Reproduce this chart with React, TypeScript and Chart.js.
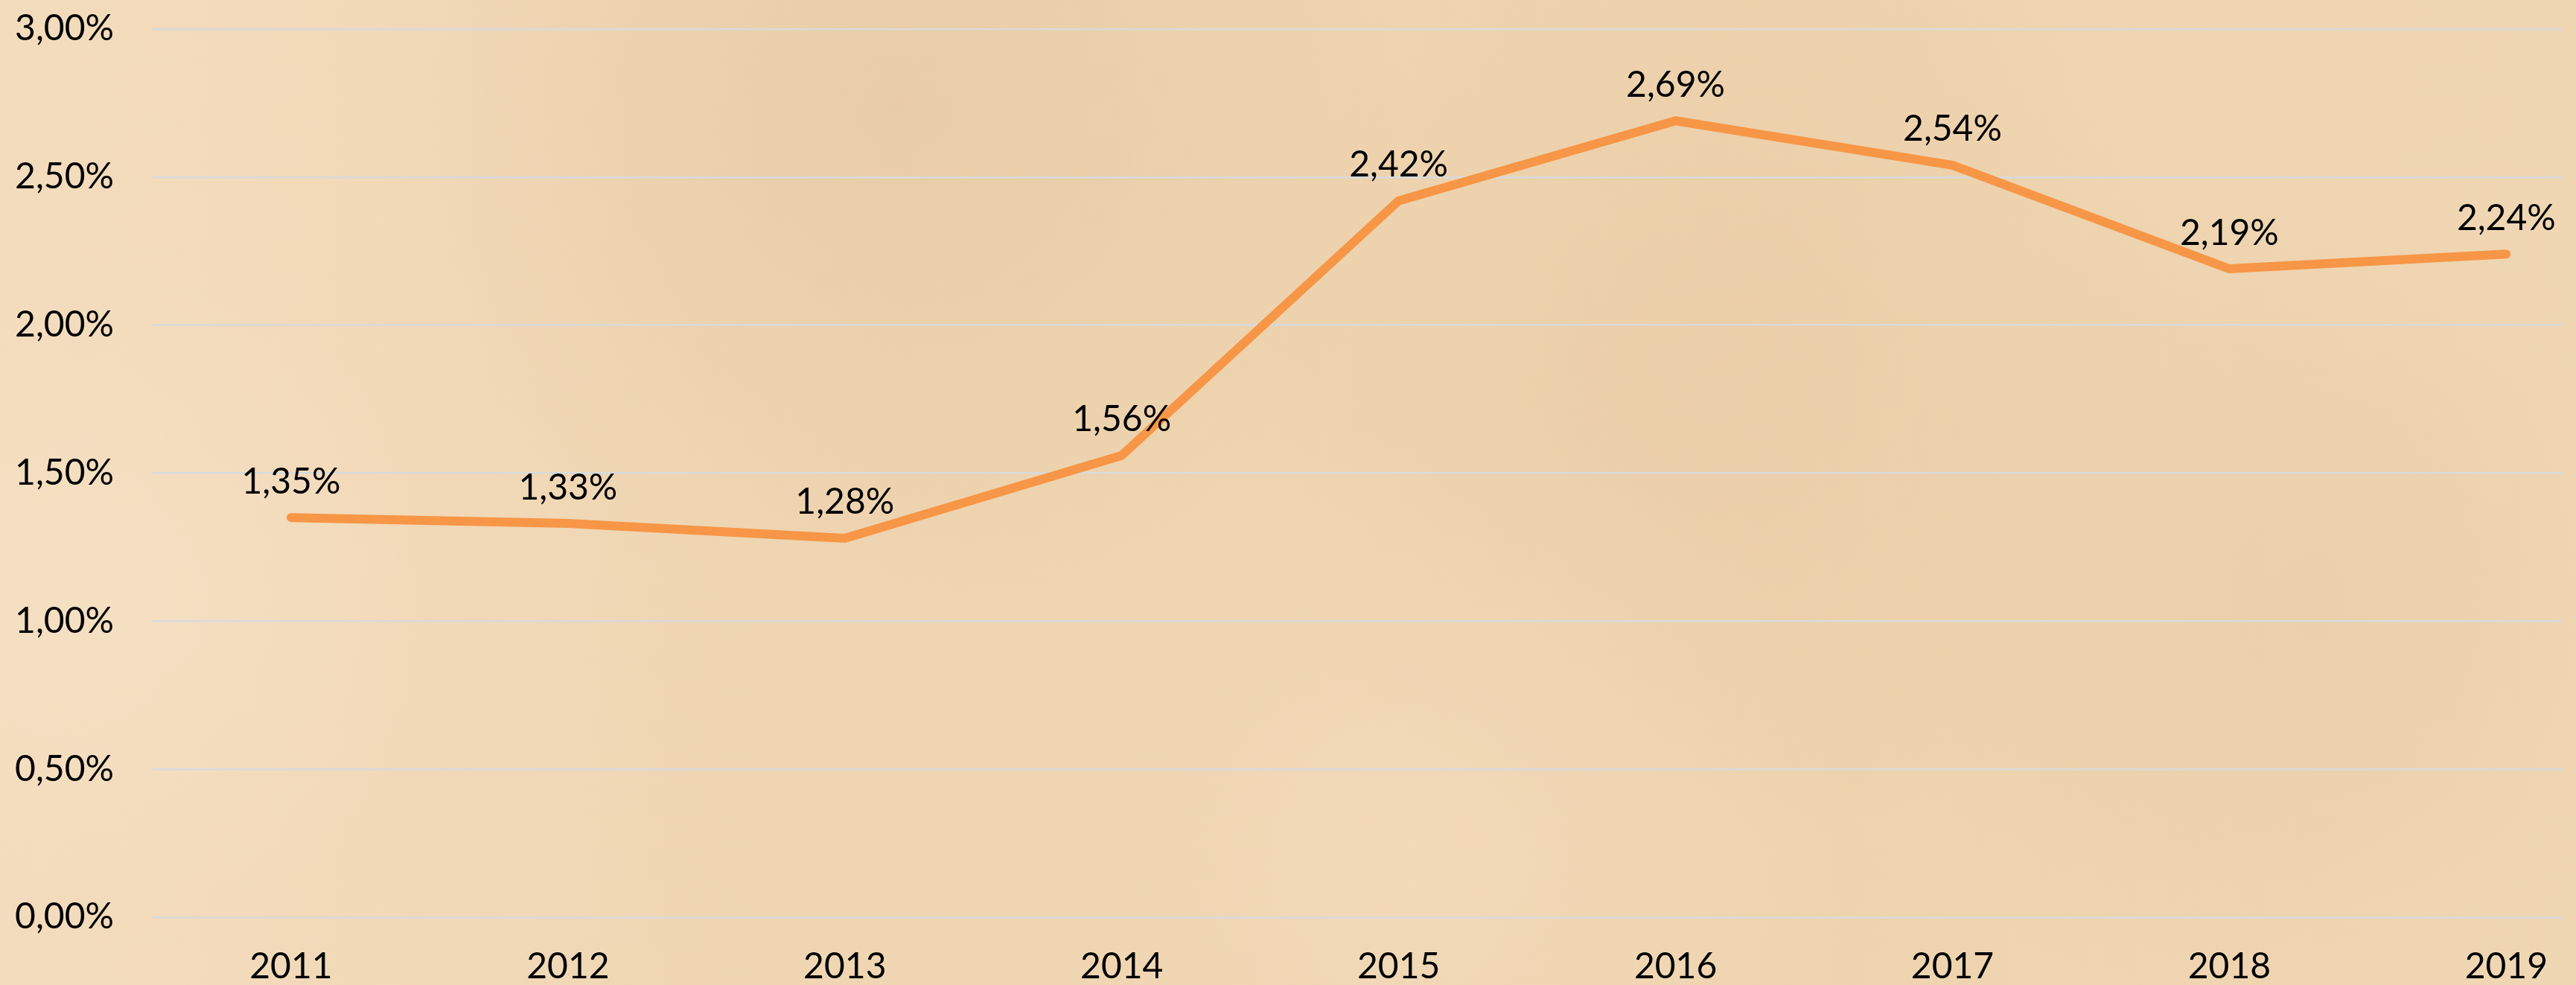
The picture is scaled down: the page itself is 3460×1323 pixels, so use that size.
import React, { useEffect, useRef } from "react";
import { Chart, registerables } from "chart.js";

Chart.register(...registerables);

const years = [2011, 2012, 2013, 2014, 2015, 2016, 2017, 2018, 2019];
const rates = [1.35, 1.33, 1.28, 1.56, 2.42, 2.69, 2.54, 2.19, 2.24];
const yTicks = [0, 0.5, 1, 1.5, 2, 2.5, 3];

const FONT = "Lato, 'Open Sans', sans-serif";
const FS = 48;
const fmt = (v: number) => v.toFixed(2).replace(".", ",") + "%";

const bgPlugin = {
  id: "parchment",
  beforeDraw(chart: any) {
    const { ctx, width, height } = chart;
    ctx.save();
    const g = ctx.createLinearGradient(0, 0, width, 0);
    g.addColorStop(0, "#f3dcbd");
    g.addColorStop(0.35, "#efd5b1");
    g.addColorStop(0.7, "#eed3ae");
    g.addColorStop(1, "#f0d7b4");
    ctx.fillStyle = g;
    ctx.fillRect(0, 0, width, height);
    const blotches: [number, number, number, number[], number][] = [
      [1200, 150, 700, [224, 194, 156], 0.45],
      [2300, 500, 650, [224, 194, 156], 0.3],
      [3100, 800, 600, [224, 194, 156], 0.3],
      [150, 800, 450, [248, 228, 202], 0.5],
      [1900, 1150, 600, [246, 224, 196], 0.4],
    ];
    for (const [x, y, r, c, a] of blotches) {
      const rg = ctx.createRadialGradient(x, y, 0, x, y, r);
      rg.addColorStop(0, `rgba(${c[0]},${c[1]},${c[2]},${a})`);
      rg.addColorStop(1, `rgba(${c[0]},${c[1]},${c[2]},0)`);
      ctx.fillStyle = rg;
      ctx.fillRect(0, 0, width, height);
    }
    ctx.restore();
  },
};

const labelPlugin = {
  id: "pointLabels",
  afterDatasetsDraw(chart: any) {
    const { ctx } = chart;
    const meta = chart.getDatasetMeta(0);
    ctx.save();
    ctx.font = `${FS}px ${FONT}`;
    ctx.fillStyle = "#000000";
    ctx.textAlign = "center";
    ctx.textBaseline = "middle";
    meta.data.forEach((pt: any, i: number) => {
      ctx.fillText(fmt(rates[i]), pt.x, pt.y - 48);
    });
    ctx.restore();
  },
};

export default function App() {
  const ref = useRef<HTMLCanvasElement>(null);
  useEffect(() => {
    if (!ref.current) return;
    const chart = new Chart(ref.current, {
      type: "line",
      data: {
        datasets: [
          {
            data: years.map((y, i) => ({ x: y, y: rates[i] })),
            borderColor: "#F79646",
            borderWidth: 12,
            borderCapStyle: "round",
            borderJoinStyle: "round",
            pointRadius: 0,
            tension: 0,
            fill: false,
          },
        ],
      },
      options: {
        animation: false,
        responsive: false,
        maintainAspectRatio: false,
        layout: { padding: { top: 39, left: 0, right: 0, bottom: 0 } },
        plugins: { legend: { display: false }, tooltip: { enabled: false } },
        scales: {
          x: {
            type: "linear",
            min: 2010.5,
            max: 2019.2,
            grid: { display: false, drawTicks: false },
            border: { display: false },
            afterBuildTicks(scale: any) {
              scale.ticks = years.map((v) => ({ value: v }));
            },
            afterFit(scale: any) {
              scale.height = 91;
            },
            ticks: {
              padding: 38,
              color: "#000000",
              font: { family: FONT, size: FS },
              maxRotation: 0,
              autoSkip: false,
              callback: (v: any) => String(v),
            },
          },
          y: {
            min: 0,
            max: 3,
            grid: { color: "#d8dadc", lineWidth: 2.5, drawTicks: false },
            border: { display: false },
            afterBuildTicks(scale: any) {
              scale.ticks = yTicks.map((v) => ({ value: v }));
            },
            afterFit(scale: any) {
              scale.width = 205;
              scale.paddingTop = 0;
              scale.paddingBottom = 0;
            },
            ticks: {
              padding: 52,
              color: "#000000",
              font: { family: FONT, size: FS },
              callback: (v: any) => fmt(Number(v)),
            },
          },
        },
      },
      plugins: [bgPlugin, labelPlugin],
    } as any);
    return () => chart.destroy();
  }, []);
  return (
    <div style={{ position: "absolute", left: 0, top: 0, width: 3460, height: 1323 }}>
      <canvas ref={ref} width={3460} height={1323} style={{ display: "block" }} />
    </div>
  );
}
